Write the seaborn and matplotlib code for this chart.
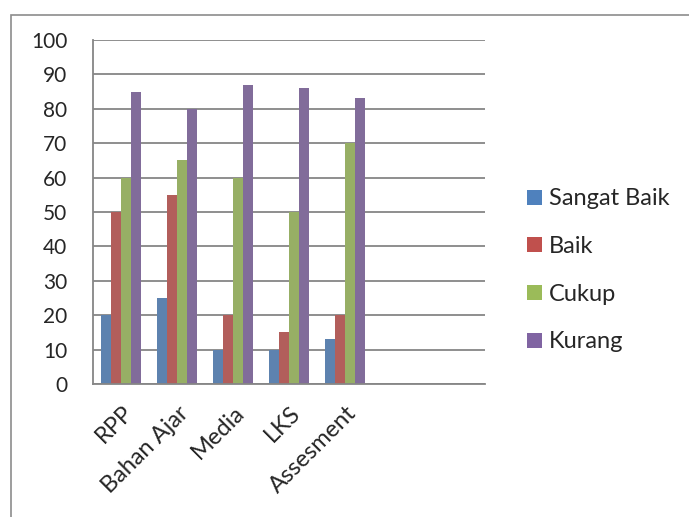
import matplotlib
matplotlib.use("Agg")
import matplotlib.pyplot as plt
import matplotlib.patches as mpatches
import matplotlib.transforms as mtransforms
import seaborn as sns
import pandas as pd

categories = ["RPP", "Bahan Ajar", "Media", "LKS", "Assesment"]
series = ["Sangat Baik", "Baik", "Cukup", "Kurang"]
sangat_baik = [20, 25, 10, 10, 13]
baik = [50, 55, 20, 15, 20]
cukup = [60, 65, 60, 50, 70]
kurang = [85, 80, 87, 86, 83]
colors = ["#4F81BD", "#C0504D", "#9BBB59", "#8064A2"]
yticks = list(range(0, 101, 10))

rows = []
for s, vals in zip(series, [sangat_baik, baik, cukup, kurang]):
    for c, v in zip(categories, vals):
        rows.append({"cat": c, "series": s, "value": v})
df = pd.DataFrame(rows)

sns.set_style("white")
plt.rcParams["font.family"] = ["Lato", "DejaVu Sans"]

fig = plt.figure(figsize=(6.89, 5.17), dpi=100)
ax = fig.add_axes([93/689, 1 - 384/517, (485-93)/689, (384-40)/517])

sns.barplot(data=df, x="cat", y="value", hue="series", order=categories,
            hue_order=series, palette=colors, width=0.727, gap=0,
            linewidth=0, edgecolor="none", ax=ax, legend=False)

grid_c = "#868686"
ax.set_xlim(-0.5, 6.5)
ax.set_ylim(0, 100)
ax.set_yticks(yticks)
ax.set_yticklabels([str(t) for t in yticks], fontsize=15)
ax.yaxis.grid(True, color=grid_c, linewidth=1.3)
ax.set_axisbelow(True)
ax.set_xlabel("")
ax.set_ylabel("")
for sp in ["top", "right"]:
    ax.spines[sp].set_visible(False)
for sp in ["left", "bottom"]:
    ax.spines[sp].set_color(grid_c)
    ax.spines[sp].set_linewidth(1.3)

ax.set_xticks([i - 0.5 for i in range(8)])
ax.set_xticklabels([])
ax.set_xticks(list(range(len(categories))), minor=True)
ax.set_xticklabels(categories, minor=True, rotation=45, ha="right",
                   rotation_mode="anchor", fontsize=17)
ax.tick_params(axis="x", which="major", length=7, width=1.3, color=grid_c, direction="out")
ax.tick_params(axis="x", which="minor", length=0, pad=13)
ax.tick_params(axis="y", length=6.5, width=1.3, color=grid_c, direction="out", pad=12)

offset = mtransforms.ScaledTranslation(1/100, 0, fig.dpi_scale_trans)
for lab in ax.get_xticklabels(minor=True):
    lab.set_transform(lab.get_transform() + offset)

handles = [mpatches.Patch(facecolor=c, edgecolor="none") for c in colors]
fig.legend(handles, series, loc="upper left", bbox_to_anchor=(518/689, 1 - 179/517),
           frameon=False, fontsize=17, handlelength=0.6, handleheight=0.6,
           handletextpad=0.32, labelspacing=1.13, borderaxespad=0)

fig.patches.append(mpatches.Rectangle((11/689, -0.1), 1.2, 1 - 15/517 + 0.1,
                                      transform=fig.transFigure, fill=False,
                                      edgecolor="#8c8c8c", linewidth=1.2))

fig.savefig("out.png", dpi=100)
